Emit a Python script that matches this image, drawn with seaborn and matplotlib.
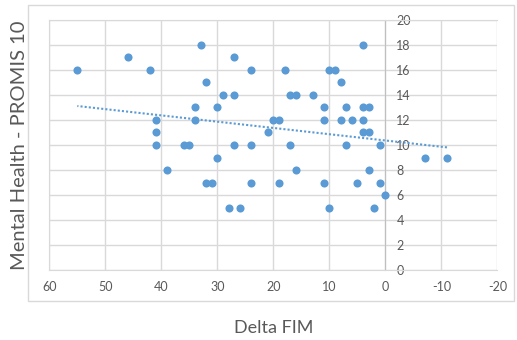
import numpy as np
import pandas as pd
import seaborn as sns
import matplotlib.pyplot as plt
from matplotlib.patches import Rectangle

# Delta FIM vs PROMIS 10 mental health
delta_fim = [55, 46, 42, 33, 32, 29, 34, 30, 41, 34, 41, 41, 36, 35,
             27, 24, 18, 10, 9, 4, 8, 27, 17, 16, 13, 11, 7, 4, 3,
             20, 19, 11, 8, 6, 4, 21, 4, 3, 27, 24, 17, 7, 1,
             30, 39, 32, 31, 28, 26, 24, 19, 16, 11, 10, 5, 3, 1, 2, 0,
             -7, -11]
mental_health = [16, 17, 16, 18, 15, 14, 13, 13, 12, 12, 11, 10, 10, 10,
                 17, 16, 16, 16, 16, 18, 15, 14, 14, 14, 14, 13, 13, 13, 13,
                 12, 12, 12, 12, 12, 12, 11, 11, 11, 10, 10, 10, 10, 10,
                 9, 8, 7, 7, 5, 5, 7, 7, 8, 7, 5, 7, 8, 7, 5, 6,
                 9, 9]

x_ticks = [60, 50, 40, 30, 20, 10, 0, -10, -20]
y_ticks = [0, 2, 4, 6, 8, 10, 12, 14, 16, 18, 20]

df = pd.DataFrame({"fim": delta_fim, "mh": mental_health})

sns.set_style("white")
plt.rcParams['font.family'] = ['Lato', 'DejaVu Sans']

blue = "#5B9BD5"
grid = "#D9D9D9"
text = "#595959"

fig = plt.figure(figsize=(5.17, 3.40), dpi=100)
ax = fig.add_axes([0.0954, 0.205, 0.8666, 0.737])

# light frame around the plot area and tick labels
fig.patches.append(Rectangle((0.054, 0.115), 0.940, 0.870, transform=fig.transFigure,
                             fill=False, edgecolor=grid, linewidth=1))

sns.scatterplot(data=df, x="fim", y="mh", ax=ax, color=blue, s=34,
                edgecolor=blue, linewidth=0, zorder=3)
# linear trendline
sns.regplot(data=df, x="fim", y="mh", ax=ax, scatter=False, ci=None,
            line_kws=dict(color=blue, linestyle=(0, (1, 1)), linewidth=1.5, zorder=2))

ax.set_xlim(60, -20)
ax.set_ylim(0, 20)
ax.set_xticks(x_ticks)
ax.set_yticks(y_ticks)
ax.set_xticklabels([str(v) for v in x_ticks])
ax.grid(True, color=grid, linewidth=1)
ax.set_axisbelow(True)

# y axis crosses at x = 0, labels to its right
ax.yaxis.tick_right()
ax.spines['right'].set_position(('data', 0))
ax.spines['right'].set_color("#BFBFBF")
for s in ['top', 'left', 'bottom']:
    ax.spines[s].set_color(grid)
ax.tick_params(axis='y', length=0, pad=8, labelsize=9, labelcolor=text)
ax.tick_params(axis='x', length=0, pad=8, labelsize=9, labelcolor=text)

ax.set_xlabel("Delta FIM", fontsize=13, color=text, labelpad=19)
ax.set_ylabel("")
fig.text(0.038, 0.572, "Mental Health - PROMIS 10", rotation=90, fontsize=14.5,
         color=text, ha='center', va='center')

fig.savefig("out.png", dpi=100)
